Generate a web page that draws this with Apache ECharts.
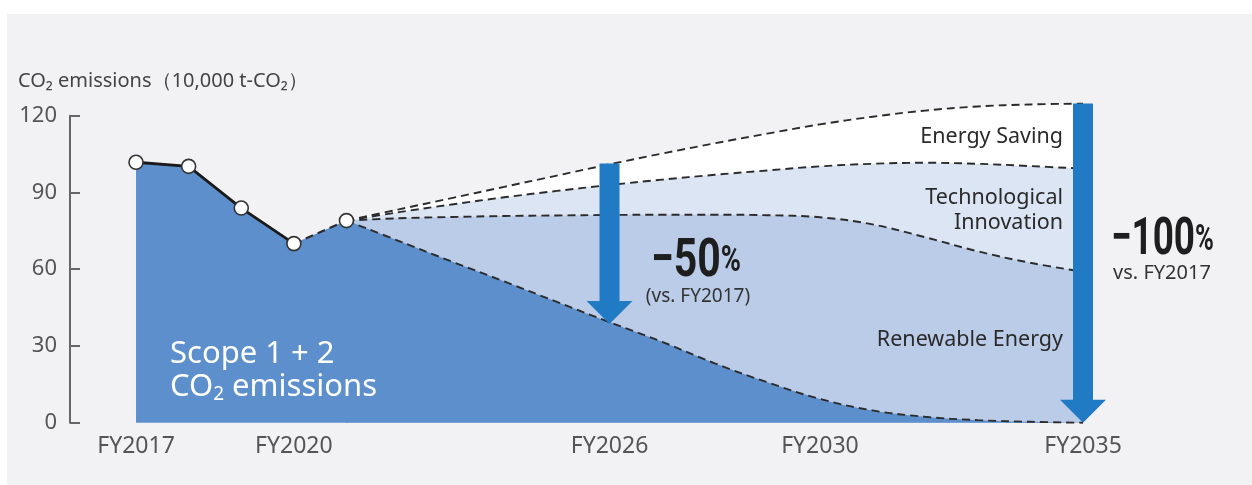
<!DOCTYPE html>
<html><head><meta charset="utf-8">
<script src="https://cdn.jsdelivr.net/npm/echarts@6/dist/echarts.min.js"></script>
<style>html,body{margin:0;padding:0;background:#fff}#c{width:1252px;height:485px}</style>
</head><body><div id="c"></div>
<script>
// ---- data ----
const historyYears = [2017, 2018, 2019, 2020, 2021];
const historyValues = [101.8, 100.2, 83.9, 70, 79];
const projYears = [2021, 2022, 2023, 2024, 2025, 2026, 2027, 2028, 2029, 2030, 2031, 2032, 2033, 2034, 2035];
const energySavingTop = [79, 83.4, 87.8, 92.2, 96.6, 101, 105.2, 109.2, 113, 116.6, 119.6, 122, 123.6, 124.4, 124.7];
const technologicalTop = [79, 82.3, 85.3, 88.1, 90.6, 92.9, 95, 96.9, 98.6, 100.2, 101.2, 101.6, 101.2, 100.3, 99.3];
const renewableTop = [79, 79.9, 80.4, 80.8, 81, 81.2, 81.3, 81.3, 81.1, 80.3, 77.5, 72.5, 67, 62.5, 59];
const remainingEmissions = [79, 71, 63, 55.2, 47.2, 39.3, 31.6, 23.2, 15.8, 9.3, 4.8, 2.3, 1.0, 0.35, 0];
const xTickYears = [2017, 2020, 2026, 2030, 2035];
const yMin = 0, yMax = 120, yStep = 30;
const arrowYears = [2026, 2035];
const arrowTops = [101.3, 124.8];
const arrowTips = [38.6, 0];

const pair = (xs, ys) => xs.map((x, i) => [x, ys[i]]);

const C = {
  dark: '#5c8fcb', renew: '#bacce8', tech: '#dbe5f4', save: '#ffffff',
  arrow: '#207ac4', bg: '#f2f2f4', line: '#2b2b2b'
};
const FONT = "'Noto Sans', 'Open Sans', 'DejaVu Sans', sans-serif";

function fillSeries(data, color, smooth) {
  return { type: 'line', data, smooth: smooth ? 0.4 : false, symbol: 'none', silent: true,
    lineStyle: { width: 0 }, areaStyle: { color, opacity: 1 }, clip: false, z: 1 };
}
function dashSeries(data, smooth, width) {
  return { type: 'line', data, smooth: smooth ? 0.4 : false, symbol: 'none', silent: true,
    lineStyle: { color: C.line, width: width || 1.9, type: [8, 5] }, clip: false, z: 3 };
}

const chart = echarts.init(document.getElementById('c'), null, { renderer: 'canvas' });
chart.setOption({
  backgroundColor: 'transparent',
  animation: false,
  grid: { left: 70, right: 169, top: 115.7, bottom: 62.3 },
  xAxis: {
    type: 'value', min: 2015.745, max: 2035,
    axisLine: { show: false }, axisTick: { show: false }, splitLine: { show: false },
    axisLabel: { customValues: xTickYears, formatter: v => 'FY' + v, color: '#555',
      fontSize: 23, fontFamily: FONT, margin: 12 }
  },
  yAxis: {
    type: 'value', min: yMin, max: yMax, interval: yStep,
    axisLine: { show: true, lineStyle: { color: '#666', width: 2 } },
    axisTick: { show: true, inside: true, length: 10, lineStyle: { color: '#666', width: 2 } },
    splitLine: { show: false },
    axisLabel: { color: '#555', fontSize: 22, fontFamily: FONT, margin: 13 }
  },
  series: [
    fillSeries(pair(projYears, energySavingTop), C.save, true),
    fillSeries(pair(projYears, technologicalTop), C.tech, true),
    fillSeries(pair(projYears, renewableTop), C.renew, true),
    fillSeries(pair(projYears, remainingEmissions), C.dark, true),
    fillSeries(pair(historyYears, historyValues), C.dark, false),
    {
      // closes the seam between the measured and projected dark areas
      type: 'custom', z: 2, silent: true, clip: false,
      data: [[historyYears[4], historyValues[4]]],
      renderItem(params, api) {
        const a = api.coord([api.value(0), 0]);
        const b = api.coord([api.value(0), api.value(1)]);
        return { type: 'line', shape: { x1: a[0], y1: a[1], x2: b[0], y2: b[1] + 2 },
          style: { stroke: C.dark, lineWidth: 2 } };
      }
    },
    dashSeries(pair(projYears, energySavingTop), true),
    dashSeries(pair(projYears, technologicalTop), true),
    dashSeries(pair(projYears, renewableTop), true),
    dashSeries(pair(projYears, remainingEmissions), true),
    { type: 'line', data: pair(historyYears.slice(0, 4), historyValues.slice(0, 4)), symbol: 'none',
      lineStyle: { color: '#1a1a1a', width: 2.8 }, z: 3, silent: true },
    dashSeries(pair(historyYears.slice(3), historyValues.slice(3)), false, 2.2),
    {
      type: 'custom', z: 4, silent: true, clip: false,
      data: arrowYears.map((y, i) => [y, arrowTops[i], arrowTips[i]]),
      encode: { x: 0, y: [1, 2] },
      renderItem(params, api) {
        const top = api.coord([api.value(0), api.value(1)]);
        const tip = api.coord([api.value(0), api.value(2)]);
        const cx = top[0], sw = 10, hw = 23, hh = 23;
        return { type: 'polygon', shape: { points: [
          [cx - sw, top[1]], [cx + sw, top[1]], [cx + sw, tip[1] - hh], [cx + hw, tip[1] - hh],
          [cx, tip[1]], [cx - hw, tip[1] - hh], [cx - sw, tip[1] - hh]] },
          style: { fill: C.arrow } };
      }
    },
    { type: 'scatter', data: pair(historyYears, historyValues), symbol: 'circle', symbolSize: 14,
      itemStyle: { color: '#fff', borderColor: '#333', borderWidth: 1.6, opacity: 1 }, z: 6, silent: true, clip: false }
  ],
  graphic: [
    { type: 'rect', z: -10, silent: true, shape: { x: 7, y: 14, width: 1245, height: 471 }, style: { fill: C.bg } },
    { type: 'text', x: 18, y: 81, silent: true, style: { text: 'CO₂ emissions（10,000 t-CO₂）', font: '20px ' + FONT,
      fill: '#444', align: 'left', verticalAlign: 'middle' } },
    { type: 'text', x: 170, y: 338, z: 20, silent: true, style: {
      text: '{m|Scope 1 + 2}\n{m|CO}{s|2}{m| emissions}', align: 'left', verticalAlign: 'top',
      rich: { m: { fontSize: 31, fontFamily: FONT, lineHeight: 33, fill: '#fff' },
              s: { fontSize: 19, fontFamily: FONT, lineHeight: 10, verticalAlign: 'bottom', fill: '#fff' } } } },
    { type: 'text', x: 1063, y: 137, z: 20, silent: true, style: { text: 'Energy Saving', font: '21.5px ' + FONT,
      fill: '#2a2a2a', align: 'right', verticalAlign: 'middle' } },
    { type: 'text', x: 1063, y: 198, z: 20, silent: true, style: { text: 'Technological', font: '21.5px ' + FONT,
      fill: '#2a2a2a', align: 'right', verticalAlign: 'middle' } },
    { type: 'text', x: 1063, y: 223, z: 20, silent: true, style: { text: 'Innovation', font: '21.5px ' + FONT,
      fill: '#2a2a2a', align: 'right', verticalAlign: 'middle' } },
    { type: 'text', x: 1063, y: 340, z: 20, silent: true, style: { text: 'Renewable Energy', font: '21.5px ' + FONT,
      fill: '#2a2a2a', align: 'right', verticalAlign: 'middle' } },
    { type: 'text', x: 651, y: 289, z: 20, scaleX: 0.76, silent: true, style: {
      text: '{a|−50}{b|%}', align: 'left', verticalAlign: 'bottom',
      rich: { a: { font: "bold 54px Roboto, 'DejaVu Sans', sans-serif", fill: '#1e1e1e' },
              b: { font: "bold 36px Roboto, 'DejaVu Sans', sans-serif", fill: '#1e1e1e' } } } },
    { type: 'text', x: 698, y: 297, z: 20, silent: true, style: { text: '(vs. FY2017)', font: '19px ' + FONT,
      fill: '#333', align: 'center', verticalAlign: 'middle' } },
    { type: 'text', x: 1111, y: 267, z: 20, scaleX: 0.71, silent: true, style: {
      text: '{a|−100}{b|%}', align: 'left', verticalAlign: 'bottom',
      rich: { a: { font: "bold 52px Roboto, 'DejaVu Sans', sans-serif", fill: '#1e1e1e' },
              b: { font: "bold 36px Roboto, 'DejaVu Sans', sans-serif", fill: '#1e1e1e' } } } },
    { type: 'text', x: 1162, y: 273, z: 20, silent: true, style: { text: 'vs. FY2017', font: '20px ' + FONT,
      fill: '#333', align: 'center', verticalAlign: 'middle' } }
  ]
});
</script></body></html>
